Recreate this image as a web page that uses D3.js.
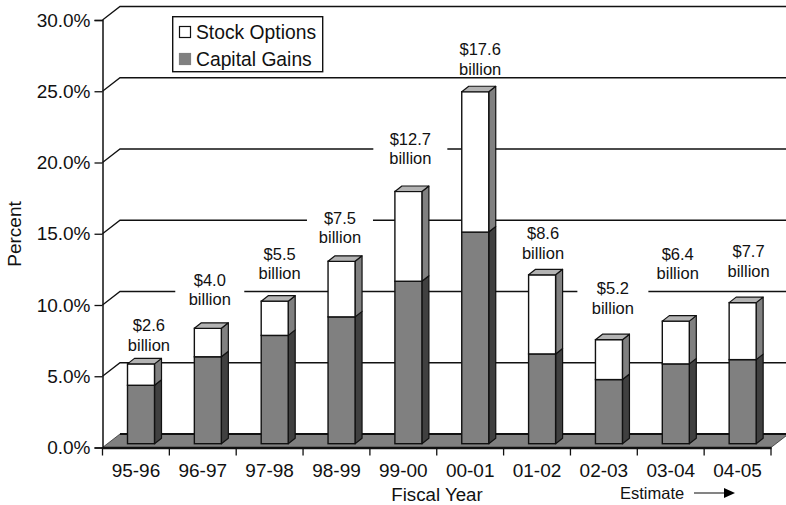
<!DOCTYPE html>
<html>
<head>
<meta charset="utf-8">
<script src="https://cdn.jsdelivr.net/npm/d3@7/dist/d3.min.js"></script>
<style>
  html, body { margin: 0; padding: 0; background: #fff; overflow: hidden; }
  svg { display: block; font-family: "Liberation Sans", Arial, sans-serif; fill: #111; }
</style>
</head>
<body>
<svg id="chart" width="786" height="505"></svg>
<script>
// Chart data
const fiscalYears = ["95-96", "96-97", "97-98", "98-99", "99-00", "00-01", "01-02", "02-03", "03-04", "04-05"];
const capitalGains = [4.1, 6.1, 7.6, 8.9, 11.4, 14.85, 6.3, 4.5, 5.6, 5.9];
const stockOptions = [1.5, 2.0, 2.4, 3.9, 6.3, 9.85, 5.55, 2.8, 3.0, 4.0];
const revenueBillions = [2.6, 4.0, 5.5, 7.5, 12.7, 17.6, 8.6, 5.2, 6.4, 7.7];
const percentTicks = [0, 5, 10, 15, 20, 25, 30];

// Label placement around each bar: sideways shift, lift above the bar, knock-out width
const labelShift = [13, 7, 10, 3.5, 7, 10, 6, 9, 7, 11];
const labelLift = [19, 29, 28, 24, 33, 23, 22, 32, 48, 32];
const labelGap = [0, 69, 0, 66, 74, 0, 0, 71, 0, 0];

const svg = d3.select("#chart");

// Scales
const plot = { left: 102.5, right: 771, bottom: 447.5, top: 20 };
const x = d3.scaleBand().domain(fiscalYears).range([plot.left, plot.right]);
const y = d3.scaleLinear().domain([0, 30]).range([plot.bottom, plot.top]);

// Pseudo-3D offsets
const wall = { dx: 17.5, dy: 13.5 };
const bar = { inset: 25, width: 27, dx: 7, dy: 5.5, lift: 3.8 };
const ink = "#111";

const poly = pts => pts.map(p => p.join(",")).join(" ");

// Back wall gridlines with their short diagonal along the side wall
svg.append("g").selectAll("polyline")
  .data(percentTicks.filter(t => t > 0))
  .join("polyline")
  .attr("points", t => poly([
    [plot.left, y(t)],
    [plot.left + wall.dx, y(t) - wall.dy],
    [plot.right + wall.dx, y(t) - wall.dy]
  ]))
  .attr("fill", "none")
  .attr("stroke", ink)
  .attr("stroke-width", 1.3);

// Floor
svg.append("polygon")
  .attr("points", poly([
    [plot.left, y(0)],
    [plot.left + wall.dx, y(0) - wall.dy],
    [plot.right + wall.dx, y(0) - wall.dy],
    [plot.right, y(0)]
  ]))
  .attr("fill", "#808080")
  .attr("stroke", "#333")
  .attr("stroke-width", 0.8);
svg.append("line")
  .attr("x1", plot.left + wall.dx).attr("x2", plot.right + wall.dx)
  .attr("y1", y(0) - wall.dy).attr("y2", y(0) - wall.dy)
  .attr("stroke", ink).attr("stroke-width", 2);

// Revenue labels; some knock a hole in the gridline behind them
const rows = fiscalYears.map((year, i) => ({
  year, i,
  capital: capitalGains[i],
  options: stockOptions[i],
  total: capitalGains[i] + stockOptions[i]
}));
const barTop = v => y(v) - bar.lift;
const labelX = d => x(d.year) + x.bandwidth() / 2 + labelShift[d.i];
const labelY = d => barTop(d.total) - labelLift[d.i];

svg.append("g").selectAll("rect")
  .data(rows.filter(d => labelGap[d.i] > 0))
  .join("rect")
  .attr("x", d => labelX(d) - labelGap[d.i] / 2)
  .attr("y", d => labelY(d) - 30)
  .attr("width", d => labelGap[d.i])
  .attr("height", 42)
  .attr("fill", "#fff");

// Bars: stacked segments, each with a front and a side face
const barX = d => x(d.year) + bar.inset;
const side = (d, from, to) => {
  const r = barX(d) + bar.width;
  return poly([
    [r, barTop(from)],
    [r + bar.dx, barTop(from) - bar.dy],
    [r + bar.dx, barTop(to) - bar.dy],
    [r, barTop(to)]
  ]);
};

const stack = d3.stack().keys(["capital", "options"])(rows);
const segmentStyle = {
  capital: { front: "#808080", side: "#404040" },
  options: { front: "#ffffff", side: "#808080" }
};

const bars = svg.append("g");
stack.forEach(layer => {
  const style = segmentStyle[layer.key];
  const g = bars.append("g");
  g.selectAll("polygon")
    .data(layer)
    .join("polygon")
    .attr("points", s => side(s.data, s[0], s[1]))
    .attr("fill", style.side)
    .attr("stroke", ink)
    .attr("stroke-width", 1.2)
    .attr("stroke-linejoin", "round");
  g.selectAll("rect")
    .data(layer)
    .join("rect")
    .attr("x", s => barX(s.data))
    .attr("y", s => barTop(s[1]))
    .attr("width", bar.width)
    .attr("height", s => barTop(s[0]) - barTop(s[1]))
    .attr("fill", style.front)
    .attr("stroke", ink)
    .attr("stroke-width", 1.4);
});

// Top faces
bars.append("g").selectAll("polygon")
  .data(rows)
  .join("polygon")
  .attr("points", d => {
    const l = barX(d), t = barTop(d.total);
    return poly([
      [l, t],
      [l + bar.dx, t - bar.dy],
      [l + bar.width + bar.dx, t - bar.dy],
      [l + bar.width, t]
    ]);
  })
  .attr("fill", "#b3b3b3")
  .attr("stroke", ink)
  .attr("stroke-width", 1.2)
  .attr("stroke-linejoin", "round");

// Axes
const yAxis = d3.axisLeft(y).tickValues(percentTicks)
  .tickFormat(t => d3.format(".1f")(t) + "%").tickSizeOuter(0).tickSize(8).tickPadding(4);
const xAxis = d3.axisBottom(x).tickSize(0).tickSizeOuter(0).tickPadding(16);

const yG = svg.append("g").attr("transform", `translate(${plot.left},0)`).call(yAxis);
const xG = svg.append("g").attr("transform", `translate(0,${plot.bottom})`).call(xAxis);

// Category ticks sit on the band edges
xG.append("g").selectAll("line")
  .data(d3.range(fiscalYears.length + 1))
  .join("line")
  .attr("x1", i => plot.left + i * x.step())
  .attr("x2", i => plot.left + i * x.step())
  .attr("y1", 0).attr("y2", 8)
  .attr("stroke", ink).attr("stroke-width", 1.3);

[yG, xG].forEach(g => {
  g.selectAll("path.domain").attr("stroke", ink).attr("stroke-width", 1.5);
  g.selectAll("text").attr("font-size", 19).attr("font-family", "Liberation Sans").attr("fill", "#111");
});
yG.selectAll(".tick line").attr("stroke", ink).attr("stroke-width", 1.3);
xG.select("path.domain").attr("stroke-width", 2.4);

// Value labels
const labels = svg.append("g").attr("text-anchor", "middle").attr("font-size", 16.5);
rows.forEach(d => {
  const t = labels.append("text").attr("x", labelX(d)).attr("y", labelY(d) + 6);
  t.append("tspan").attr("x", labelX(d)).attr("dy", -19.5).text("$" + d3.format(".1f")(revenueBillions[d.i]));
  t.append("tspan").attr("x", labelX(d)).attr("dy", 19.5).text("billion");
});

// Axis titles and the estimate marker
svg.append("text")
  .attr("transform", "translate(21,234) rotate(-90)")
  .attr("text-anchor", "middle").attr("font-size", 19).text("Percent");
svg.append("text")
  .attr("x", 437).attr("y", 500.5)
  .attr("text-anchor", "middle").attr("font-size", 18.7).text("Fiscal Year");
svg.append("text")
  .attr("x", 620).attr("y", 499).attr("font-size", 16.5).text("Estimate");
svg.append("line")
  .attr("x1", 694).attr("x2", 726).attr("y1", 493).attr("y2", 493)
  .attr("stroke", "#333").attr("stroke-width", 1.2);
svg.append("polygon")
  .attr("points", poly([[724, 488], [735, 493], [724, 498]]))
  .attr("fill", "#000");

// Legend
const legendItems = ["Stock Options", "Capital Gains"];
const legendFill = ["#ffffff", "#808080"];
const legendStroke = ["#111", "#808080"];
const legend = svg.append("g");
legend.append("rect")
  .attr("x", 172.7).attr("y", 16.7).attr("width", 150).attr("height", 55)
  .attr("fill", "#fff").attr("stroke", ink).attr("stroke-width", 1.4);
const rowY = d3.scalePoint().domain(legendItems).range([32, 59]);
legendItems.forEach((name, i) => {
  legend.append("rect")
    .attr("x", 179.5).attr("y", rowY(name) - 5.5)
    .attr("width", 11).attr("height", 11)
    .attr("fill", legendFill[i]).attr("stroke", legendStroke[i]).attr("stroke-width", 1.2);
  legend.append("text")
    .attr("x", 196).attr("y", rowY(name) + 6.5)
    .attr("font-size", 19.3).text(name);
});
</script>
</body>
</html>
